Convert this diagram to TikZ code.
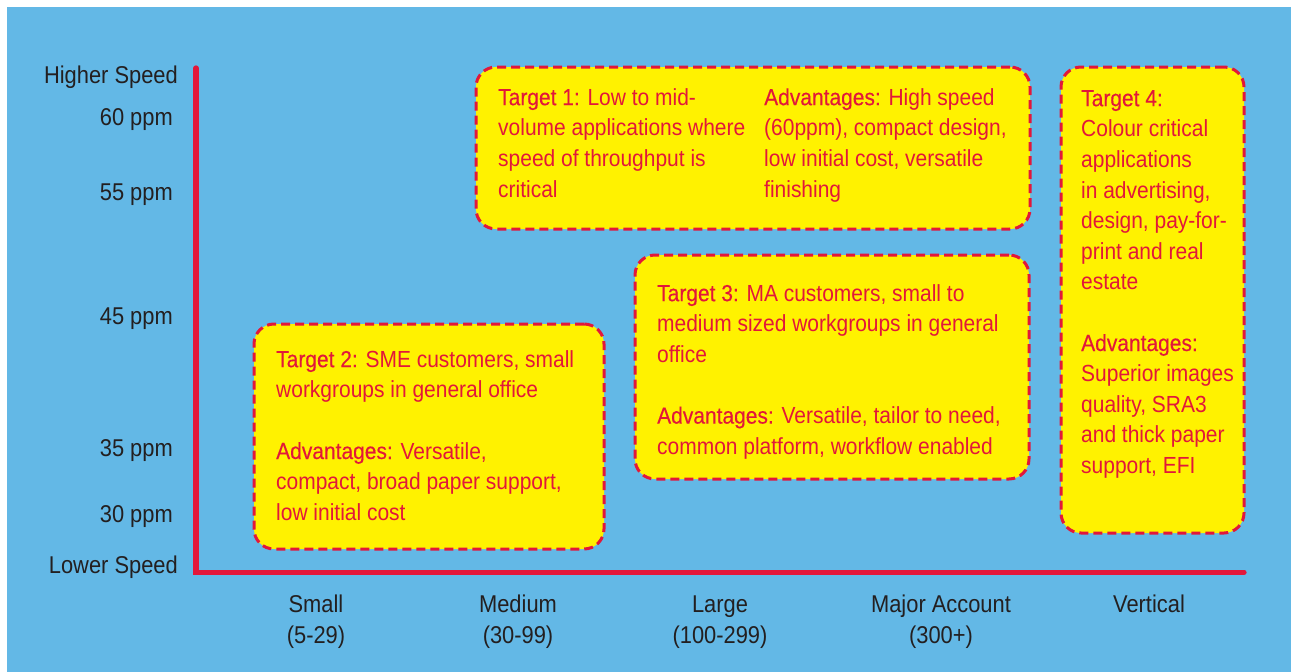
\documentclass[tikz,border=0pt]{standalone}
\usepackage{fontspec}
\setmainfont{Liberation Sans}[FakeStretch=0.9]
\newfontfamily\hdfont{Liberation Sans}[FakeStretch=0.9,FakeBold=0.25]
\definecolor{bgblue}{HTML}{63B8E6}
\definecolor{boxyellow}{HTML}{FFF200}
\definecolor{axred}{HTML}{E2173A}
\definecolor{txtgray}{HTML}{231F20}
\newcommand{\hd}[1]{{\hdfont #1}}
\newcommand{\topstrut}{\rule{0pt}{20pt}}
\tikzset{
  box/.style={draw=axred, fill=boxyellow, line width=3pt, dash pattern=on 9pt off 5pt,
    rounded corners=20pt, inner sep=0pt},
  boxtext/.style={anchor=north west, inner sep=0pt, align=left, text=axred,
    font=\fontsize{23.3}{30.6}\selectfont},
  axlabel/.style={anchor=base east, inner sep=0pt, text=txtgray,
    font=\fontsize{24.3}{31}\selectfont},
  catlabel/.style={anchor=base, inner sep=0pt, align=center, text=txtgray,
    font=\fontsize{24.3}{31}\selectfont},
  axis/.style={draw=axred, line width=5.3pt, line cap=round, line join=miter}
}
\begin{document}
\begin{tikzpicture}[x=1pt,y=-1pt]
\useasboundingbox (0,0) rectangle (1291,672);
\fill[white] (0,0) rectangle (1291,672);
\fill[bgblue] (7,7) rectangle (1291,672);

% axes
\coordinate (ytop) at (196,68);
\coordinate (origin) at (196,572.3);
\coordinate (xend) at (1244,572.3);
\draw[axis] (ytop) -- (origin) -- (xend);

% y labels
\node[axlabel] (hs) at (178,83.5) {Higher Speed};
\node[axlabel] (p60) at (173,125.5) {60 ppm};
\node[axlabel] (p55) at (173,200.5) {55 ppm};
\node[axlabel] (p45) at (173,324.5) {45 ppm};
\node[axlabel] (p35) at (173,456.5) {35 ppm};
\node[axlabel] (p30) at (173,522.5) {30 ppm};
\node[axlabel] (ls) at (178,573.5) {Lower Speed};

% x labels (base anchor = last line's baseline)
\node[catlabel] (small) at (316,643.5) {Small\\(5-29)};
\node[catlabel] (medium) at (518,643.5) {Medium\\(30-99)};
\node[catlabel] (large) at (720,643.5) {Large\\(100-299)};
\node[catlabel] (major) at (941,643.5) {Major Account\\(300+)};
\node[catlabel] (vertical) at (1149,612.5) {Vertical};

% boxes
\node[box, minimum width=554pt, minimum height=162pt] (b1) at (753,148) {};
\node[box, minimum width=350pt, minimum height=225pt] (b2) at (429,436.5) {};
\node[box, minimum width=394pt, minimum height=224pt] (b3) at (832,367) {};
\node[box, minimum width=183pt, minimum height=466pt] (b4) at (1152.5,300) {};

% box texts
\node[boxtext] (t1a) at (498,85) {\topstrut\hd{Target 1:} Low to mid-\\volume applications where\\speed of throughput is\\critical};
\node[boxtext] (t1b) at (764,85) {\topstrut\hd{Advantages:} High speed\\(60ppm), compact design,\\low initial cost, versatile\\finishing};
\node[boxtext] (t2) at (276,347) {\topstrut\hd{Target 2:} SME customers, small\\workgroups in general office\\[30.6pt]\hd{Advantages:} Versatile,\\compact, broad paper support,\\low initial cost};
\node[boxtext] (t3) at (657,281) {\topstrut\hd{Target 3:} MA customers, small to\\medium sized workgroups in general\\office\\[30.6pt]\hd{Advantages:} Versatile, tailor to need,\\common platform, workflow enabled};
\node[boxtext] (t4) at (1081,86) {\topstrut\hd{Target 4:}\\Colour critical\\applications\\in advertising,\\design, pay-for-\\print and real\\estate\\[30.6pt]\hd{Advantages:}\\Superior images\\quality, SRA3\\and thick paper\\support, EFI};
\end{tikzpicture}
\end{document}
